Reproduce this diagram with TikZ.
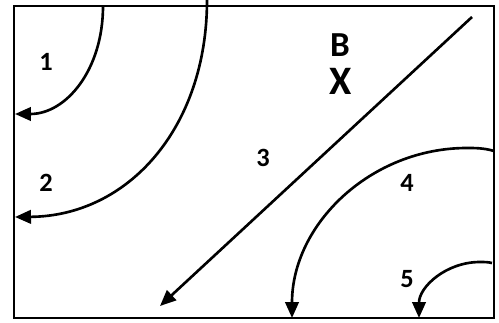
\documentclass[tikz,border=0pt]{standalone}
\usepackage{fontspec}
\setmainfont{Carlito}
\usetikzlibrary{arrows.meta}

\begin{document}
\begin{tikzpicture}[
    x=0.02cm, y=-0.02cm,
    frame/.style={line width=1pt},
    flow/.style={line width=1.5pt, -{Triangle[length=0.32cm,width=0.27cm]}},
    lbl/.style={font=\fontsize{15}{18}\selectfont\bfseries, inner sep=0pt},
    pt/.style={font=\fontsize{20}{24}\selectfont\bfseries, inner sep=0pt}
  ]
    \useasboundingbox (0,0) rectangle (499,323);

    % Frame
    \draw[frame] (14,6) rectangle (494,318);

    % End points of the streamlines
    \coordinate (s1) at (103,6);
    \coordinate (e1) at (15,114);
    \coordinate (s2) at (207,0);
    \coordinate (e2) at (15,217);
    \coordinate (s3) at (472,17);
    \coordinate (e3) at (160,306);
    \coordinate (s4) at (494,151);
    \coordinate (e4) at (292,318);
    \coordinate (s5) at (492,263);
    \coordinate (e5) at (419,318);

    % Streamlines
    \draw[flow] (s1) .. controls (103,70) and (66,114) .. (e1);
    \draw[flow] (s2) .. controls (207,128) and (128,216) .. (e2);
    \draw[flow] (s3) -- (e3);
    \draw[flow] (s4) .. controls (484,148) and (475,148) .. (467,148)
                     .. controls (371,148) and (292,224) .. (e4);
    \draw[flow] (s5) .. controls (488,262) and (484,262) .. (480,262)
                     .. controls (446,262) and (419,287) .. (e5);

    % Labels
    \node[lbl] (n1) at (46,62)  {1};
    \node[lbl] (n2) at (46,183) {2};
    \node[lbl] (n3) at (263,158) {3};
    \node[lbl] (n4) at (407,183) {4};
    \node[lbl] (n5) at (407,279) {5};
    \node[pt] (nB) at (340,45) {B};
    \node[font=\fontsize{23}{27}\selectfont\bfseries, inner sep=0pt] (mB) at (341,81) {X};
  \end{tikzpicture}
\end{document}
